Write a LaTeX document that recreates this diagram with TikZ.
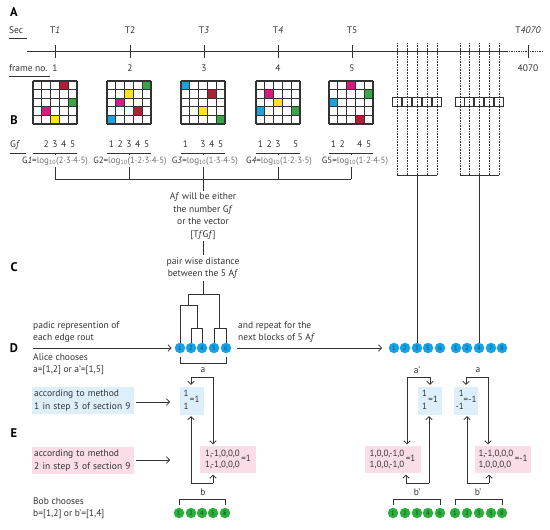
\documentclass[tikz,border=0pt]{standalone}
\usepackage{fontspec}
\setmainfont[Numbers=Lining]{PT Sans}
\usetikzlibrary{arrows.meta,calc}
\definecolor{lnc}{HTML}{333333}
\definecolor{cred}{HTML}{B41D35}
\definecolor{cgreen}{HTML}{3BA648}
\definecolor{cmag}{HTML}{E2147F}
\definecolor{cyel}{HTML}{FFE513}
\definecolor{cblue}{HTML}{1BA3E0}
\definecolor{dotblue}{HTML}{16A2E4}
\definecolor{dotbluet}{HTML}{0B4F8C}
\definecolor{dotgreen}{HTML}{2EAE3E}
\definecolor{dotgreent}{HTML}{0F4F1C}
\definecolor{lblue}{HTML}{DDEFFA}
\definecolor{lpink}{HTML}{FADDE7}
\definecolor{grayt}{HTML}{707070}

\newcommand{\mygrid}[3]{%
  \foreach \r/\c/\col in {#3} {\fill[\col] ({#2-22+(\c-1)*8.8},{81+(\r-1)*8.6}) rectangle ++(8.8,8.6);}
  \foreach \i in {0,...,5} {\draw[gridln] ({#2-22+\i*8.8},81) -- ++(0,43); \draw[gridln] ({#2-22},{81+\i*8.6}) -- ++(44,0);}
  \node[inner sep=0, minimum width=44pt, minimum height=43pt, anchor=north west] (#1) at ({#2-22},81) {};
}
\newcommand{\mylabels}[2]{%
  \foreach \k in {#2} {\node[inner sep=0, anchor=base] at ({#1-22+(\k-0.5)*8.8},147.5) {\k};}
  \draw[ln] ({#1-22},153) -- ({#1+22},153);
}

\begin{document}
\begin{tikzpicture}[x=1pt,y=-1pt,
  every node/.style={font=\fontsize{9.5}{12.5}\selectfont, text=lnc},
  ln/.style={draw=lnc, line width=0.8pt},
  gridln/.style={draw=lnc, line width=1.1pt},
  arr/.style={ln, -{Straight Barb[length=3pt,width=6.5pt]}},
  dashv/.style={draw=lnc, densely dotted, line width=0.6pt},
  sec/.style={font=\fontsize{12.5}{12}\selectfont\bfseries, inner sep=0, text=black},
  txt/.style={inner sep=0, align=left, anchor=west},
  txtc/.style={inner sep=2pt, align=center},
  bdot/.style={circle, fill=dotblue, minimum size=10.5pt, inner sep=0, font=\fontsize{6.5}{6}\selectfont, text=dotbluet},
  gdot/.style={bdot, fill=dotgreen, text=dotgreent},
  bbox/.style={fill=lblue, inner sep=1.5pt, minimum width=24pt, minimum height=25pt, font=\fontsize{9}{12.5}\selectfont},
  pbox/.style={fill=lpink, inner sep=1.5pt, minimum width=56pt, minimum height=27pt, font=\fontsize{9}{12.5}\selectfont},
  mbox/.style={anchor=north west, inner sep=2pt, text width=98pt, align=left, minimum height=27pt},
  sqr/.style={draw=lnc, line width=0.8pt, minimum size=8.5pt, inner sep=0},
  gtxt/.style={inner sep=1.5pt, font=\fontsize{9}{12}\selectfont},
]
\useasboundingbox (0,0) rectangle (550,530);

% section letters
\node[sec] (lA) at (14,12) {A};
\node[sec] (lB) at (14,120) {B};
\node[sec] (lC) at (14,267) {C};
\node[sec] (lD) at (14,348) {D};
\node[sec] (lE) at (14,433) {E};

% ---------- A: timeline ----------
\node[txt] (secl) at (9,30) {Sec};
\draw[ln] (9,38) -- (27,38);
\node[txt] (frl) at (9,68) {frame no.};
\draw[ln] (9,76) -- (50,76);

\draw[ln] (27,51) -- (507,51);
\draw[lnc, line width=0.75pt, densely dotted] (507,51) -- (543,51);
\foreach \nm/\x/\tl/\fn in {t1/55/T\textit{1}/1, t2/130/T2/2, t3/204/T\textit{3}/3, t4/278/T\textit{4}/4, t5/352/T5/5, tn/528/T\textit{4070}/4070}{
  \node[inner sep=0, anchor=base] (\nm) at (\x,33.5) {\tl};
  \node[inner sep=0, anchor=base] (f\nm) at (\x,71.5) {\fn};
  \draw[ln] (\x,45) -- (\x,58);
}

% dashed columns
\foreach \x in {397,407,417,427,437,460,469,479,489,499}{
  \draw[dashv] (\x,43) -- (\x,175);
  \draw[ln] (\x,49) -- (\x,53);
  \node[sqr] at (\x,102) {};
}
\draw[ln] (397,175) -- (437,175);
\draw[ln] (460,175) -- (499,175);

% ---------- B: grids ----------
\mygrid{gr1}{55}{1/4/cred, 3/5/cgreen, 4/2/cmag, 5/3/cyel}
\mygrid{gr2}{129}{1/5/cgreen, 2/3/cyel, 3/2/cmag, 4/4/cred, 5/1/cblue}
\mygrid{gr3}{203}{1/1/cblue, 2/4/cred, 4/3/cyel, 5/5/cgreen}
\mygrid{gr4}{278}{2/2/cmag, 3/3/cyel, 4/1/cblue, 4/5/cgreen}
\mygrid{gr5}{351}{1/3/cmag, 2/5/cgreen, 3/1/cblue, 5/4/cred}

\node[inner sep=0, anchor=base west] (gfl) at (10,147.5) {G\textit{f}};
\draw[ln] (10,153) -- (26,153);
\mylabels{55}{2,3,4,5}
\mylabels{129}{1,2,3,4,5}
\mylabels{203}{1,3,4,5}
\mylabels{278}{1,2,3,5}
\mylabels{351}{1,2,4,5}

\node[gtxt] (g1) at (55,161) {G\textit{1}=\textcolor{grayt}{log\textsubscript{10}(2·3·4·5)}};
\node[gtxt] (g2) at (130,161) {G2=\textcolor{grayt}{log\textsubscript{10}(1·2·3·4·5)}};
\node[gtxt] (g3) at (205,161) {G\textit{3}=\textcolor{grayt}{log\textsubscript{10}(1·3·4·5)}};
\node[gtxt] (g4) at (279,161) {G\textit{4}=\textcolor{grayt}{log\textsubscript{10}(1·2·3·5)}};
\node[gtxt] (g5) at (355,161) {G5=\textcolor{grayt}{log\textsubscript{10}(1·2·4·5)}};

\foreach \i/\x in {1/55,2/129,3/203,4/278,5/351}{
  \coordinate (u\i) at (\x,153);
  \coordinate (h\i) at (\x,179);
  \draw[ln] (u\i) -- (u\i |- g\i.north);
  \draw[ln] (h\i |- g\i.south) -- (h\i);
}
\draw[ln] (h1) -- (h5);

% ---------- C ----------
\node[txtc] (af) at (203,216) {A\textit{f} will be either\\the number G\textit{f}\\or the vector\\{[}T\textit{f}G\textit{f}{]}};
\node[txtc] (pd) at (203,268) {pair wise distance\\between the 5 A\textit{f}};
\draw[ln] (h3) -- (af.north);
\draw[ln] (af.south) -- (pd.north);

% ---------- D ----------
\foreach \nm/\x/\n in {c1/180/1, c2/191/2, c4/202/4, c5/214/5, c6/226/6}{
  \node[bdot] (\nm) at (\x,348) {\n};
}
\foreach \nm/\x/\n in {r1/394/1, r2/405/2, r3/417/3, r5/428/5, r6/440/6, s1/456/1, s2/467/2, s4/479/4, s7/491/7, s8/502/8}{
  \node[bdot] (\nm) at (\x,348) {\n};
}
% dendrogram
\draw[ln] (pd.south) -- (203,294);
\draw[ln] (188,305) -- (188,294) -- (219,294) -- (219,328);
\draw[ln] (180,305) -- (197,305) -- (197,328);
\draw[ln] (180,305) -- (c1.north);
\draw[ln] (191,328) -- (202,328);
\draw[ln] (191,328) -- (c2.north);
\draw[ln] (202,328) -- (c4.north);
\draw[ln] (214,328) -- (226,328);
\draw[ln] (214,328) -- (c5.north);
\draw[ln] (226,328) -- (c6.north);
% column links
\draw[ln] (417,175) -- (r3.north);
\draw[ln] (479,175) -- (s4.north);

\node[txt] (padic) at (33,332) {padic represention of\\each edge rout};
\node[txt] (alice) at (33,364) {Alice chooses\\a=[1,2] or a'=[1,5]};
\node[txt] (rep) at (238,332) {and repeat for the\\next blocks of 5 A\textit{f}};
\coordinate (pstart) at (33,348);
\draw[arr, shorten >=3pt] (pstart) -- (c1.west);
\draw[arr, shorten <=6pt, shorten >=6.5pt] (c6.east) -- (r1.west);

% bracket a
\draw[ln] (180,357) -- (180,363) -- (226,363) -- (226,357);
\node[inner sep=0] (la) at (203,370) {a};
\node[inner sep=0] (la2) at (417,370) {a'};
\node[inner sep=0] (la3) at (478,370) {a};

% ---------- E ----------
\node[mbox, fill=lblue] (m1) at (32,387) {according to method\\1 in step 3 of section 9};
\node[mbox, fill=lpink] (m2) at (32,447) {according to method\\2 in step 3 of section 9};
\coordinate (m1e) at (170,402);
\coordinate (m2e) at (170,460);
\draw[arr, shorten <=2pt] (m1.east |- m1e) -- (m1e);
\draw[arr, shorten <=2pt] (m2.east |- m2e) -- (m2e);

\node[bbox] (bres1) at (191.5,400.5) {\begin{tabular}{@{}l@{}}1\\1\end{tabular}\,=1};
\node[bbox] (bres2) at (430,400.5) {\begin{tabular}{@{}l@{}}1\\1\end{tabular}\,=1};
\node[bbox] (bres3) at (466,400.5) {\begin{tabular}{@{}r@{}}1\\-1\end{tabular}=-1};
\node[pbox] (pres1) at (228,459.5) {\def\arraystretch{0.9}\begin{tabular}{@{}l@{}}1,-1,0,0,0\\1,-1,0,0,0\end{tabular}\,=1};
\node[pbox] (pres2) at (392.5,459.5) {\def\arraystretch{0.9}\begin{tabular}{@{}l@{}}1,0,0,-1,0\\1,0,0,-1,0\end{tabular}\,=1};
\node[pbox] (pres3) at (503,459.5) {\def\arraystretch{0.9}\begin{tabular}{@{}l@{}}1,-1,0,0,0\\1,0,0,0,0\end{tabular}\,=-1};

% a connectors
\coordinate (aL1) at (191,377); \coordinate (aR1) at (213,377);
\coordinate (aL2) at (407,377); \coordinate (aR2) at (430,377);
\coordinate (aL3) at (466,377); \coordinate (aR3) at (488,377);
\draw[ln] (aL1) -- (aR1);
\draw[ln] (aL2) -- (aR2);
\draw[ln] (aL3) -- (aR3);
\draw[arr, shorten >=1.5pt] (aL1) -- (aL1 |- bres1.north);
\draw[arr, shorten >=1.5pt] (aR1) -- (aR1 |- pres1.north);
\draw[arr, shorten >=1.5pt] (aL2) -- (aL2 |- pres2.north);
\draw[arr, shorten >=1.5pt] (aR2) -- (aR2 |- bres2.north);
\draw[arr, shorten >=1.5pt] (aL3) -- (aL3 |- bres3.north);
\draw[arr, shorten >=1.5pt] (aR3) -- (aR3 |- pres3.north);

% b connectors
\coordinate (bL1) at (191,483); \coordinate (bR1) at (213,483);
\coordinate (bL2) at (406,483); \coordinate (bR2) at (429,483);
\coordinate (bL3) at (467,483); \coordinate (bR3) at (489,483);
\draw[ln] (bL1) -- (bR1);
\draw[ln] (bL2) -- (bR2);
\draw[ln] (bL3) -- (bR3);
\draw[arr, shorten >=1.5pt] (bL1) -- (bL1 |- bres1.south);
\draw[arr, shorten >=1.5pt] (bR1) -- (bR1 |- pres1.south);
\draw[arr, shorten >=1.5pt] (bL2) -- (bL2 |- pres2.south);
\draw[arr, shorten >=1.5pt] (bR2) -- (bR2 |- bres2.south);
\draw[arr, shorten >=1.5pt] (bL3) -- (bL3 |- bres3.south);
\draw[arr, shorten >=1.5pt] (bR3) -- (bR3 |- pres3.south);

\node[inner sep=0] (lb1) at (203,492) {b};
\node[inner sep=0] (lb2) at (417,492) {b'};
\node[inner sep=0] (lb3) at (478,492) {b'};

% green dots
\foreach \nm/\x/\n in {d1/179/1, d2/191/2, d4/202/4, d5/213/5, d8/225/8,
                       e1/393/1, e2/405/2, e3/417/3, e4/428/4, e6/440/6,
                       k1/455/1, k2/467/2, k3/479/3, k5/491/5, k8/502/8}{
  \node[gdot] (\nm) at (\x,513) {\n};
}
\draw[ln] (179,505) -- (179,499) -- (225,499) -- (225,505);
\draw[ln] (393,505) -- (393,499) -- (440,499) -- (440,505);
\draw[ln] (455,505) -- (455,499) -- (502,499) -- (502,505);

\node[txt] (bob) at (33,508) {Bob chooses\\b=[1,2] or b'=[1,4]};
\end{tikzpicture}
\end{document}
